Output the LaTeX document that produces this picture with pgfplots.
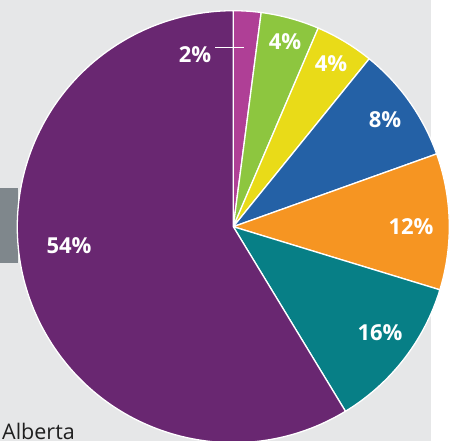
\documentclass[border=0pt]{standalone}
\usepackage{pgfplots}
\pgfplotsset{compat=1.18}
\usepackage{pgfplotstable}
\usepackage{fontspec}
\setmainfont{Open Sans}
\definecolor{bg}{HTML}{E6E7E8}
\definecolor{grayrect}{HTML}{7F878C}
\definecolor{cMag}{HTML}{AF3F96}
\definecolor{cGreen}{HTML}{8DC63F}
\definecolor{cYellow}{HTML}{E9DB18}
\definecolor{cBlue}{HTML}{2461A6}
\definecolor{cOrange}{HTML}{F69522}
\definecolor{cTeal}{HTML}{077F86}
\definecolor{cPurple}{HTML}{692771}
\pgfplotstableread{
value col
2.06 cMag
4.37 cGreen
4.40 cYellow
8.70 cBlue
10.19 cOrange
11.59 cTeal
58.69 cPurple
}\piedata
\begin{document}
\begin{tikzpicture}
\begin{axis}[width=456pt,height=441pt,scale only axis,hide axis,
  xmin=0,xmax=456,ymin=0,ymax=441,clip=true]
\fill[bg] (axis cs:0,0) rectangle (axis cs:431,441);
\fill[white] (axis cs:431,0) rectangle (axis cs:456,441);
\fill[grayrect] (axis cs:0,178) rectangle (axis cs:18.3,252.5);
\pgfplotstablegetrowsof{\piedata}
\pgfmathtruncatemacro\N{\pgfplotsretval-1}
\def\cum{0}
\pgfplotsforeachungrouped \i in {0,...,\N}{%
  \pgfplotstablegetelem{\i}{value}\of\piedata \let\val\pgfplotsretval
  \pgfplotstablegetelem{\i}{col}\of\piedata \let\colname\pgfplotsretval
  \pgfmathsetmacro\angA{90-3.6*\cum}%
  \pgfmathsetmacro\angB{90-3.6*(\cum+\val)}%
  \edef\temp{\noexpand\fill[\colname,draw=white,line width=1.3pt,line join=round] (axis cs:233.3,214.3) -- ([shift={(\angA:216pt)}]axis cs:233.3,214.3) arc[start angle=\angA,end angle=\angB,radius=216pt] -- cycle;}%
  \temp
  \pgfmathsetmacro\cum{\cum+\val}%
}
\tikzset{lbl/.style={text=white,font=\bfseries\fontsize{22}{24}\selectfont,inner sep=0pt}}
\draw[white,line width=0.8pt] (axis cs:215,393.5) -- (axis cs:244,393.5);
\node[lbl] at (axis cs:195,386) {2\%};
\node[lbl] at (axis cs:285,399) {4\%};
\node[lbl] at (axis cs:331,377) {4\%};
\node[lbl] at (axis cs:385,321) {8\%};
\node[lbl] at (axis cs:411,214) {12\%};
\node[lbl] at (axis cs:380,108) {16\%};
\node[lbl] at (axis cs:69,195) {54\%};
\node[anchor=base west,inner sep=0pt,text=black!88,font=\fontsize{21.5}{24}\selectfont] at (axis cs:2,1.8) {Alberta};
\end{axis}
\end{tikzpicture}
\end{document}
